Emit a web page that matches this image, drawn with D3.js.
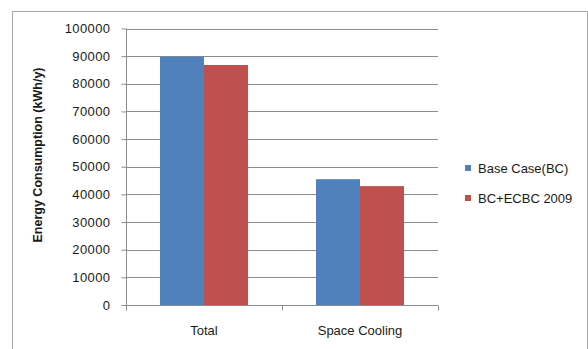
<!DOCTYPE html>
<html>
<head>
<meta charset="utf-8">
<script src="https://cdn.jsdelivr.net/npm/d3@7"></script>
<style>
  html, body { margin: 0; padding: 0; background: #fff; }
  svg { display: block; }
  text { font-family: "Liberation Sans", Arial, sans-serif; fill: #1a1a1a; }
</style>
</head>
<body>
<svg id="chart" width="588" height="349"></svg>
<script>
// Annual energy use by end use, two building scenarios
const categories = ["Total", "Space Cooling"];
const seriesNames = ["Base Case(BC)", "BC+ECBC 2009"];
const baseCase = [89800, 45500];
const ecbc2009 = [86800, 43000];
const yTicks = [0, 10000, 20000, 30000, 40000, 50000, 60000, 70000, 80000, 90000, 100000];
const colors = ["#4F81BD", "#C0504D"];

const seriesValues = [baseCase, ecbc2009];
const rows = categories.map((c, i) => ({
  category: c,
  values: seriesNames.map((s, j) => ({ series: s, value: seriesValues[j][i], color: colors[j] }))
}));

const svg = d3.select("#chart");

// outer chart frame
svg.append("path")
  .attr("d", "M12.5,349 V11.5 H587.5 V349")
  .attr("fill", "none")
  .attr("stroke", "#a6a6a6")
  .attr("stroke-width", 1);

const plot = { left: 126, right: 438, top: 28.5, bottom: 305 };

const y = d3.scaleLinear().domain([0, 100000]).range([plot.bottom, plot.top]);
const x0 = d3.scaleBand().domain(categories).range([plot.left, plot.right])
  .paddingInner(0.436).paddingOuter(0.218);
const x1 = d3.scaleBand().domain(seriesNames).range([0, x0.bandwidth()]).padding(0);

// horizontal gridlines
svg.append("g")
  .selectAll("line")
  .data(yTicks.filter(t => t > 0))
  .join("line")
  .attr("x1", plot.left).attr("x2", plot.right)
  .attr("y1", d => Math.round(y(d)) + 0.5).attr("y2", d => Math.round(y(d)) + 0.5)
  .attr("stroke", "#8c8c8c").attr("stroke-width", 1);

// bars
svg.append("g")
  .selectAll("g")
  .data(rows)
  .join("g")
  .attr("transform", d => `translate(${x0(d.category)},0)`)
  .selectAll("rect")
  .data(d => d.values)
  .join("rect")
  .attr("x", d => x1(d.series))
  .attr("width", x1.bandwidth())
  .attr("y", d => y(d.value))
  .attr("height", d => y(0) - y(d.value))
  .attr("fill", d => d.color);

// y axis
const yAxis = svg.append("g")
  .attr("transform", `translate(${plot.left + 0.5},0)`)
  .call(d3.axisLeft(y).tickValues(yTicks).tickFormat(d3.format("d")).tickSize(5).tickPadding(11));
yAxis.select(".domain").attr("stroke", "#8c8c8c").attr("d", `M0,${plot.top}V${plot.bottom}`);
yAxis.selectAll(".tick line").attr("stroke", "#8c8c8c");
yAxis.selectAll(".tick text")
  .style("font-size", "13px").style("letter-spacing", "0.4px").attr("fill", "#1a1a1a");

// x axis with tick marks at category boundaries
const xAxisG = svg.append("g").attr("transform", `translate(0,${Math.round(plot.bottom) + 0.5})`);
xAxisG.append("line")
  .attr("x1", plot.left).attr("x2", plot.right)
  .attr("stroke", "#8c8c8c");
const step = x0.step();
const boundaries = [plot.left, plot.left + step, plot.left + 2 * step];
xAxisG.selectAll("line.bound")
  .data(boundaries)
  .join("line")
  .attr("class", "bound")
  .attr("x1", d => Math.round(d) + 0.5).attr("x2", d => Math.round(d) + 0.5)
  .attr("y1", 0).attr("y2", 5)
  .attr("stroke", "#8c8c8c");
xAxisG.selectAll("text")
  .data(categories)
  .join("text")
  .attr("x", d => x0(d) + x0.bandwidth() / 2)
  .attr("y", 29)
  .attr("text-anchor", "middle")
  .style("font-size", "13px")
  .text(d => d);

// y axis title
svg.append("text")
  .attr("transform", "translate(42,155) rotate(-90)")
  .attr("text-anchor", "middle")
  .style("font-family", "'Liberation Sans Narrow', 'Liberation Sans', Arial, sans-serif")
  .style("font-weight", "bold")
  .style("font-size", "12.5px")
  .text("Energy Consumption  (kWh/y)");

// legend
const legend = svg.append("g")
  .selectAll("g")
  .data(seriesNames)
  .join("g")
  .attr("transform", (d, i) => `translate(465,${165 + i * 30})`);
legend.append("rect")
  .attr("width", 6).attr("height", 6)
  .attr("fill", (d, i) => colors[i]);
legend.append("text")
  .attr("x", 13).attr("y", 8)
  .style("font-size", "13px")
  .text(d => d);
</script>
</body>
</html>
